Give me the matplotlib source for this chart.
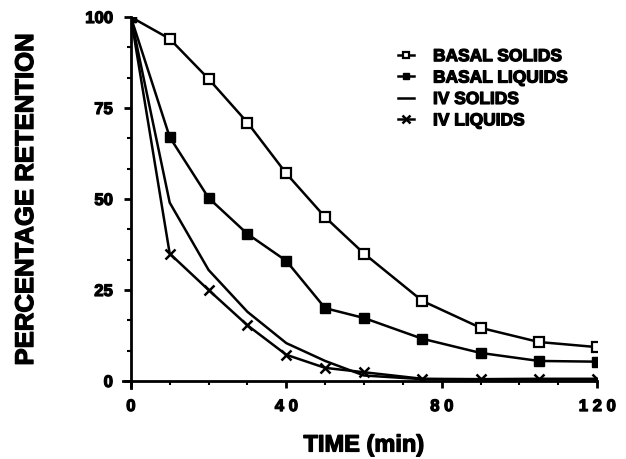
import matplotlib.pyplot as plt
import matplotlib.patheffects as pe
import numpy as np

plt.rcParams['font.family'] = ['Liberation Sans', 'DejaVu Sans']
plt.rcParams['font.weight'] = 'bold'

# times (min) and percentage retention
time = [0, 10, 20, 30, 40, 50, 60, 75, 90, 105, 120]
basal_solids = [100, 94, 83, 71, 57, 45, 35, 22, 14.6, 10.7, 9.3]
basal_liquids = [100, 67, 50.3, 40.4, 33, 20, 17.3, 11.6, 7.7, 5.5, 5.3]
iv_solids = [100, 49, 30.5, 19, 10.4, 5.5, 1.5, 0.5, 0.4, 0.4, 0.4]
iv_liquids = [100, 35, 25, 15.3, 7.2, 3.6, 2.4, 0.6, 0.5, 0.6, 0.6]

xticks = [0, 40, 80, 120]
xtick_labels = ['0', '4 0', '8 0', '1 2 0']
yticks = [0, 25, 50, 75, 100]

# a thin stroke to imitate the heavy print typeface
heavy = [pe.withStroke(linewidth=0.9, foreground='black')]

fig = plt.figure(figsize=(6.26, 4.59), dpi=100)
ax = fig.add_axes([0.209, 0.170, 0.745, 0.793])

lw = 1.8
ax.plot(time, basal_solids, color='black', lw=lw, marker='s', ms=6.5,
        mfc='white', mec='black', mew=1.6, label='BASAL SOLIDS')
ax.plot(time, basal_liquids, color='black', lw=lw, marker='s', ms=6.5,
        mfc='black', mec='black', label='BASAL LIQUIDS')
ax.plot(time, iv_solids, color='black', lw=lw, label='IV SOLIDS')
ax.plot(time, iv_liquids, color='black', lw=lw, marker='x', ms=7,
        mew=1.8, label='IV LIQUIDS')

ax.set_xlim(0, 120)
ax.set_ylim(0, 100)
ax.spines['top'].set_visible(False)
ax.spines['right'].set_visible(False)
ax.spines['left'].set_linewidth(2)
ax.spines['bottom'].set_linewidth(2)
ax.spines['left'].set_bounds(-2, 100)
ax.spines['bottom'].set_bounds(-2, 120)

ax.set_xticks(xticks)
ax.set_xticklabels(xtick_labels)
ax.set_xticks(np.arange(0, 121, 10), minor=True)
ax.set_yticks(yticks)
ax.set_yticks(np.arange(0, 101, 25 / 3), minor=True)
ax.tick_params(which='major', length=5, width=2, labelsize=12, pad=8)
ax.tick_params(which='minor', length=3, width=1.5)
for t in ax.get_xticklabels() + ax.get_yticklabels():
    t.set_path_effects(heavy)

ax.set_xlabel('TIME (min)', fontsize=17, fontweight='bold', labelpad=14,
              path_effects=heavy)
ax.set_ylabel('PERCENTAGE RETENTION', fontsize=18.5, fontweight='bold',
              labelpad=34, path_effects=heavy)

leg = ax.legend(loc='upper left', bbox_to_anchor=(0.54, 0.955), frameon=False,
                fontsize=12.5, handlelength=0.9, handletextpad=1.1,
                labelspacing=0.36, markerscale=0.75)
for t in leg.get_texts():
    t.set_fontweight('bold')
    t.set_path_effects(heavy)

fig.savefig('out.png', dpi=100)
